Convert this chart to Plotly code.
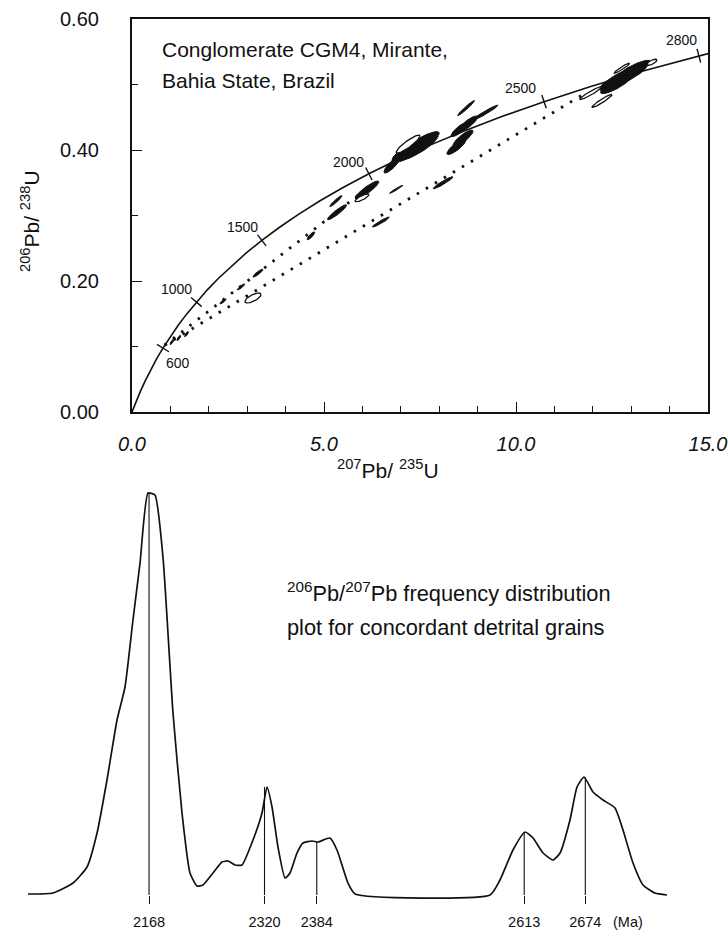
import numpy as np
import plotly.graph_objects as go

W, H = 728, 930

# ---------------- Concordia diagram data ----------------
conc_age = [0, 100, 200, 300, 400, 500, 600, 700, 800, 900, 1000, 1100, 1200, 1300, 1400,
            1500, 1600, 1700, 1800, 1900, 2000, 2100, 2200, 2300, 2400, 2500, 2600, 2700,
            2800, 2850]
conc_x = [0.0, 0.1035, 0.2177, 0.3437, 0.4828, 0.6362, 0.8056, 0.9924, 1.1986, 1.4264,
          1.6774, 1.9546, 2.2603, 2.5977, 2.9700, 3.3810, 3.8344, 4.3348, 4.8869, 5.4962,
          6.1686, 6.9105, 7.7293, 8.6327, 9.6297, 10.7299, 11.9440, 13.2838, 14.7621, 15.558]
conc_y = [0.0, 0.01563, 0.03151, 0.04764, 0.06402, 0.08065, 0.09754, 0.1147, 0.1321, 0.1498,
          0.1678, 0.1861, 0.2046, 0.2234, 0.2426, 0.2620, 0.2817, 0.3017, 0.3221, 0.3428,
          0.3638, 0.3851, 0.4067, 0.4287, 0.4511, 0.4738, 0.4968, 0.5202, 0.5440, 0.5560]

tick_age = [600, 1000, 1500, 2000, 2500, 2800]
tick_label = ["600", "1000", "1500", "2000", "2500", "2800"]

y_tickvals = [0.0, 0.2, 0.4, 0.6]
y_ticktext = ["0.00", "0.20", "0.40", "0.60"]
x_tickvals = [0, 5, 10, 15]
x_ticktext = ["0.0", "5.0", "10.0", "15.0"]

# discordia lines (dotted)
disc_lower_x = [0.85, 11.70]
disc_lower_y = [0.102, 0.483]
disc_upper_x = [0.85, 6.20]
disc_upper_y = [0.102, 0.345]

# error ellipses: centre, 2-sigma half widths, correlation, filled?
ell_x = [3.15, 3.28, 2.84, 2.37, 1.04, 1.22, 1.42, 4.66, 5.31, 5.34, 6.12, 5.99, 6.88, 6.48,
         7.37, 7.55, 7.19, 6.77, 8.45, 8.62, 8.55, 8.75, 8.70, 9.20, 8.10,
         11.95, 12.24, 12.76, 13.54, 12.79, 12.60, 13.05]
ell_y = [0.174, 0.212, 0.191, 0.169, 0.107, 0.113, 0.119, 0.269, 0.322, 0.305, 0.339, 0.327,
         0.340, 0.290, 0.403, 0.412, 0.409, 0.377, 0.405, 0.418, 0.432, 0.440, 0.464, 0.457,
         0.350, 0.487, 0.475, 0.525, 0.534, 0.511, 0.500, 0.522]
ell_sx = [0.21, 0.13, 0.10, 0.08, 0.05, 0.05, 0.05, 0.10, 0.16, 0.25, 0.31, 0.18, 0.17, 0.22,
          0.60, 0.45, 0.31, 0.21, 0.25, 0.26, 0.24, 0.25, 0.22, 0.33, 0.26,
          0.29, 0.26, 0.20, 0.13, 0.62, 0.40, 0.45]
ell_sy = [0.0076, 0.0060, 0.0046, 0.0038, 0.0040, 0.0040, 0.0040, 0.0060, 0.0084, 0.0115,
          0.0137, 0.0060, 0.0061, 0.0076, 0.0215, 0.0160, 0.0137, 0.0122, 0.0120, 0.0125,
          0.0115, 0.0120, 0.0115, 0.0115, 0.0092, 0.0099, 0.0099, 0.0076, 0.0046, 0.0200,
          0.0140, 0.0150]
ell_rho = [0.70, 0.90, 0.90, 0.85, 0.80, 0.80, 0.80, 0.85, 0.95, 0.93, 0.90, 0.80, 0.97, 0.95,
           0.85, 0.85, 0.90, 0.85, 0.85, 0.85, 0.85, 0.85, 0.97, 0.97, 0.95,
           0.95, 0.95, 0.95, 0.70, 0.88, 0.85, 0.85]
ell_filled = [False, True, True, True, True, True, True, True, True, True, True, False, True,
              True, True, True, False, True, True, True, True, True, True, True, True,
              False, False, False, False, True, True, True]

# ---------------- Frequency distribution data ----------------
# x : 207Pb/206Pb ratio, y : relative frequency
freq_ratio = [0.12227, 0.12496, 0.12712, 0.12863, 0.12971, 0.13078, 0.13186, 0.13272, 0.13358,
              0.13434, 0.13520, 0.13595, 0.13681, 0.13789, 0.13886, 0.13972, 0.14048, 0.14112,
              0.14220, 0.14317, 0.14382, 0.14457, 0.14532, 0.14651, 0.14748, 0.14802, 0.14856,
              0.14920, 0.14996, 0.15050, 0.15125, 0.15190, 0.15287, 0.15351, 0.15480, 0.15556,
              0.15674, 0.15750, 0.17205, 0.17312, 0.17452, 0.17582, 0.17668, 0.17776, 0.17883,
              0.17959, 0.18066, 0.18142, 0.18217, 0.18314, 0.18422, 0.18551, 0.18637, 0.18745,
              0.18853, 0.18982, 0.19111]
freq_val = [1, 2, 12, 28, 62, 115, 175, 208, 275, 332, 402, 400, 338, 182, 82, 22, 9, 10, 22,
            33, 34, 30, 30, 55, 82, 108, 88, 48, 17, 22, 42, 52, 54, 53, 57, 45, 12, 1, 0, 15,
            45, 63, 57, 42, 35, 42, 75, 108, 118, 103, 95, 87, 65, 32, 10, 2, 0]

peak_age = ["2168", "2320", "2384", "2613", "2674"]
peak_ratio = [0.13531, 0.14775, 0.15338, 0.17573, 0.18231]
peak_height = [402, 108, 53, 63, 118]

FONT = "Liberation Sans, Arial, Helvetica, sans-serif"
INK = "#111111"

fig = go.Figure()

# ---- ellipses ----
t = np.linspace(0, 2 * np.pi, 72)


def ellipse_paths(filled_flag):
    xs, ys = [], []
    for cx, cy, sx, sy, r, f in zip(ell_x, ell_y, ell_sx, ell_sy, ell_rho, ell_filled):
        if f != filled_flag:
            continue
        ex = cx + sx * np.cos(t)
        ey = cy + sy * (r * np.cos(t) + np.sqrt(1 - r * r) * np.sin(t))
        xs += list(ex) + [None]
        ys += list(ey) + [None]
    return xs, ys


fx, fy = ellipse_paths(True)
fig.add_trace(go.Scatter(x=fx, y=fy, mode="lines", fill="toself", fillcolor=INK,
                         line=dict(color=INK, width=1), xaxis="x", yaxis="y",
                         hoverinfo="skip", showlegend=False))
ox, oy = ellipse_paths(False)
fig.add_trace(go.Scatter(x=ox, y=oy, mode="lines", fill="toself", fillcolor="white",
                         line=dict(color=INK, width=1.3), xaxis="x", yaxis="y",
                         hoverinfo="skip", showlegend=False))

# ---- discordia ----
for dx, dy in [(disc_lower_x, disc_lower_y), (disc_upper_x, disc_upper_y)]:
    fig.add_trace(go.Scatter(x=dx, y=dy, mode="lines",
                             line=dict(color=INK, width=2.8, dash="2.5px,8px"),
                             xaxis="x", yaxis="y", hoverinfo="skip", showlegend=False))

# ---- concordia ----
fig.add_trace(go.Scatter(x=conc_x, y=conc_y, mode="lines", line=dict(color=INK, width=1.6),
                         xaxis="x", yaxis="y", hoverinfo="skip", showlegend=False))

# tick marks on concordia, perpendicular to the curve in screen space
px_per_x = (708 - 132) / 15.0
px_per_y = (412 - 19) / 0.6
tx = [float(np.interp(a, conc_age, conc_x)) for a in tick_age]
ty = [float(np.interp(a, conc_age, conc_y)) for a in tick_age]
angles = []
for a in tick_age:
    x1, x2 = np.interp([a - 50, a + 50], conc_age, conc_x)
    y1, y2 = np.interp([a - 50, a + 50], conc_age, conc_y)
    th = np.degrees(np.arctan2((y2 - y1) * px_per_y, (x2 - x1) * px_per_x))
    angles.append(-th)
fig.add_trace(go.Scatter(x=tx, y=ty, mode="markers",
                         marker=dict(symbol="line-ns", size=10, angle=angles,
                                     line=dict(color=INK, width=1.4)),
                         xaxis="x", yaxis="y", hoverinfo="skip", showlegend=False,
                         cliponaxis=False))

# ---- frequency distribution ----
fig.add_trace(go.Scatter(x=freq_ratio, y=freq_val, mode="lines",
                         line=dict(color=INK, width=1.7, shape="spline", smoothing=0.5),
                         xaxis="x2", yaxis="y2", hoverinfo="skip", showlegend=False))
lx, ly = [], []
for r, h in zip(peak_ratio, peak_height):
    lx += [r, r, None]
    ly += [0, h, None]
fig.add_trace(go.Scatter(x=lx, y=ly, mode="lines", line=dict(color=INK, width=1.1),
                         xaxis="x2", yaxis="y2", hoverinfo="skip", showlegend=False))

# ---- annotations ----
ann = []
label_pos = {"600": (1.20, 0.075), "1000": (1.17, 0.188), "1500": (2.89, 0.282),
             "2000": (5.65, 0.382), "2500": (10.13, 0.495), "2800": (14.32, 0.568)}
for lab in tick_label:
    lxp, lyp = label_pos[lab]
    ann.append(dict(x=lxp, y=lyp, xref="x", yref="y", text=lab, showarrow=False,
                    xanchor="center", yanchor="middle",
                    font=dict(size=14, color=INK, family=FONT)))

# y tick labels (placed at their data values, right-aligned left of the axis)
for v, s in zip(y_tickvals, y_ticktext):
    ann.append(dict(x=101 / W, y=v, xref="paper", yref="y", text=s, showarrow=False,
                    xanchor="right", yanchor="middle",
                    font=dict(size=20, color=INK, family=FONT)))


def pann(px, py, text, size, xanchor="center", angle=0):
    return dict(x=px / W, y=1 - py / H, xref="paper", yref="paper", text=text,
                showarrow=False, xanchor=xanchor, yanchor="middle", textangle=angle,
                font=dict(size=size, color=INK, family=FONT))


ann.append(pann(160, 50, "Conglomerate CGM4, Mirante,", 21, "left"))
ann.append(pann(160, 80, "Bahia State, Brazil", 21, "left"))
ann.append(pann(388, 469, "<sup>207</sup>Pb/ <sup>235</sup>U", 21))
ann.append(pann(30, 221, "<sup>206</sup>Pb/ <sup>238</sup>U", 21, angle=-90))
ann.append(pann(285, 592, "<sup>206</sup>Pb/<sup>207</sup>Pb frequency distribution", 21.8, "left"))
ann.append(pann(285, 627, "plot for concordant detrital grains", 21.8, "left"))
ann.append(pann(628, 922, "(Ma)", 14.5))

fig.update_layout(
    width=W, height=H, margin=dict(l=0, r=0, t=0, b=0, autoexpand=False),
    paper_bgcolor="white", plot_bgcolor="white", showlegend=False,
    font=dict(family=FONT, color=INK),
    annotations=ann,
    xaxis=dict(domain=[132 / W, 708 / W], range=[0, 15], anchor="y",
               tickvals=x_tickvals, ticktext=["<i>%s</i>" % s for s in x_ticktext],
               ticks="inside", ticklen=10, tickwidth=1.3, tickcolor=INK,
               minor=dict(ticks="inside", dtick=1, tick0=0, ticklen=6, tickwidth=1.2,
                          tickcolor=INK, showgrid=False),
               showline=True, linecolor=INK, linewidth=1.6, mirror=True,
               showgrid=False, zeroline=False, automargin=False,
               tickfont=dict(size=20, color=INK, family=FONT), ticklabelstandoff=13),
    yaxis=dict(domain=[1 - 412 / H, 1 - 19 / H], range=[0, 0.6], anchor="x",
               tickvals=y_tickvals, showticklabels=False,
               ticks="inside", ticklen=10, tickwidth=1.3, tickcolor=INK,
               minor=dict(ticks="inside", dtick=0.1, tick0=0, ticklen=6, tickwidth=1.2,
                          tickcolor=INK, showgrid=False),
               showline=True, linecolor=INK, linewidth=1.6, mirror=True,
               showgrid=False, zeroline=False, automargin=False),
    xaxis2=dict(domain=[20 / W, 680 / W], range=[0.121408, 0.192513], anchor="free",
                position=1 - 895 / H, showline=False, showgrid=False, zeroline=False,
                tickvals=peak_ratio, ticktext=peak_age, ticks="outside", ticklen=8,
                tickwidth=1.2, tickcolor=INK, automargin=False,
                tickfont=dict(size=14.5, color=INK, family=FONT), ticklabelstandoff=6),
    yaxis2=dict(domain=[1 - 905 / H, 1 - 480 / H], range=[-10, 415], anchor="x2",
                visible=False),
)

fig.write_html("out.html", config={"displayModeBar": False},
               post_script="document.body.style.margin='0';")
